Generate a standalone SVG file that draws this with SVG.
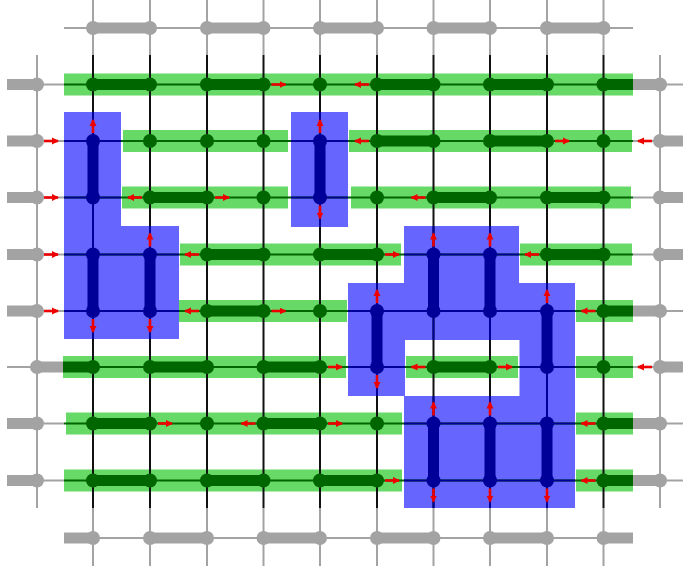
<svg xmlns="http://www.w3.org/2000/svg" width="683" height="574" viewBox="0 0 683 574">
<style>
.band{fill:#66d966}
.blue{fill:#6666ff}
.gthin{stroke:#a3a3a3;stroke-width:2;fill:none}
.gthick{stroke:#a3a3a3;stroke-width:11;stroke-linecap:round}
.gbutt{stroke:#a3a3a3;stroke-width:11;stroke-linecap:butt}
.gdot{fill:#a3a3a3}
.hl{stroke:#006600;stroke-width:2}
.vl{stroke:#111111;stroke-width:2}
.nl{stroke:#000099;stroke-width:2}
.dg{stroke:#006600;stroke-width:11;stroke-linecap:round}
.dgb{stroke:#006600;stroke-width:11;stroke-linecap:butt}
.dgd{fill:#006600}
.nv{stroke:#000099;stroke-width:11;stroke-linecap:round}
.nvd{fill:#000099}
.arr{stroke:#ee0000;stroke-width:2.6;marker-end:url(#ah)}
</style>
<defs>
<marker id="ah" markerUnits="userSpaceOnUse" markerWidth="8" markerHeight="8" refX="6" refY="4" orient="auto">
<path d="M0,0.5 L7,4 L0,7.5 Z" fill="#ee0000"/>
</marker>
<clipPath id="blueclip">
<path d="M64,112 H121 V226 H179 V339 H64 Z"/>
<rect x="291" y="112" width="57" height="115"/>
<path d="M404,226 H519 V283 H575 V508 H404 V396 H348 V283 H404 Z M405,340 V396 H519.5 V340 Z" clip-rule="evenodd"/>
</clipPath>
</defs>

<g id="bands">
<rect class="band" x="64" y="73.5" width="569" height="22"/>
<rect class="band" x="123" y="130" width="165" height="22"/>
<rect class="band" x="349" y="130" width="283" height="22"/>
<rect class="band" x="122" y="186.5" width="166" height="22"/>
<rect class="band" x="351" y="186.5" width="280" height="22"/>
<rect class="band" x="180" y="243.5" width="221" height="22"/>
<rect class="band" x="520" y="243.5" width="112" height="22"/>
<rect class="band" x="178" y="300" width="169" height="22"/>
<rect class="band" x="576" y="300" width="57" height="22"/>
<rect class="band" x="63" y="356" width="283" height="22"/>
<rect class="band" x="406" y="356" width="112" height="22"/>
<rect class="band" x="576" y="356" width="57" height="22"/>
<rect class="band" x="66" y="412.5" width="336" height="22"/>
<rect class="band" x="576" y="412.5" width="57" height="22"/>
<rect class="band" x="64" y="469.5" width="338" height="22"/>
<rect class="band" x="576" y="469.5" width="57" height="22"/>
</g>

<g id="blue-regions">
<path class="blue" d="M64,112 H121 V226 H179 V339 H64 Z"/>
<rect class="blue" x="291" y="112" width="57" height="115"/>
<path class="blue" fill-rule="evenodd" d="M404,226 H519 V283 H575 V508 H404 V396 H348 V283 H404 Z M405,340 V396 H519.5 V340 Z"/>
</g>

<g id="connectors">
<g id="frame-thin">
<line class="gthin" x1="64" y1="28" x2="633" y2="28"/>
<line class="gthin" x1="64" y1="538" x2="633" y2="538"/>
<line class="gthin" x1="37" y1="55" x2="37" y2="508"/>
<line class="gthin" x1="660" y1="55" x2="660" y2="508"/>
<line class="gthin" x1="7" y1="84.5" x2="64" y2="84.5"/>
<line class="gthin" x1="7" y1="141" x2="64" y2="141"/>
<line class="gthin" x1="7" y1="197.5" x2="64" y2="197.5"/>
<line class="gthin" x1="7" y1="254.5" x2="64" y2="254.5"/>
<line class="gthin" x1="7" y1="311" x2="64" y2="311"/>
<line class="gthin" x1="7" y1="367" x2="64" y2="367"/>
<line class="gthin" x1="7" y1="423.5" x2="64" y2="423.5"/>
<line class="gthin" x1="7" y1="480.5" x2="64" y2="480.5"/>
<line class="gthin" x1="633" y1="84.5" x2="683" y2="84.5"/>
<line class="gthin" x1="633" y1="141" x2="683" y2="141"/>
<line class="gthin" x1="633" y1="197.5" x2="683" y2="197.5"/>
<line class="gthin" x1="633" y1="254.5" x2="683" y2="254.5"/>
<line class="gthin" x1="633" y1="311" x2="683" y2="311"/>
<line class="gthin" x1="633" y1="367" x2="683" y2="367"/>
<line class="gthin" x1="633" y1="423.5" x2="683" y2="423.5"/>
<line class="gthin" x1="633" y1="480.5" x2="683" y2="480.5"/>
<path class="gthin" d="M93,0V55 M150,0V55 M207,0V55 M263.5,0V55 M320,0V55 M377,0V55 M433.5,0V55 M490,0V55 M547,0V55 M603.5,0V55"/>
<path class="gthin" d="M93,508V566 M150,508V566 M207,508V566 M263.5,508V566 M320,508V566 M377,508V566 M433.5,508V566 M490,508V566 M547,508V566 M603.5,508V566"/>
</g>
<g id="grid-rows">
<path class="hl" d="M64,84.5H633 M64,141H633 M64,197.5H633 M64,254.5H633 M64,311H633 M64,367H633 M64,423.5H633 M64,480.5H633"/>
</g>
<g id="grid-cols">
<path class="vl" d="M93,55V508 M150,55V508 M207,55V508 M263.5,55V508 M320,55V508 M377,55V508 M433.5,55V508 M490,55V508 M547,55V508 M603.5,55V508"/>
</g>
<g id="grid-blue" clip-path="url(#blueclip)">
<path class="nl" d="M64,141H633 M64,197.5H633 M64,254.5H633 M64,311H633 M64,367H633 M64,423.5H633 M64,480.5H633"/>
<path class="nl" d="M93,55V508 M150,55V508 M320,55V508 M377,55V508 M433.5,55V508 M490,55V508 M547,55V508"/>
</g>
</g>

<g id="frame-nodes">
<line class="gthick" x1="93" y1="28" x2="150" y2="28"/>
<line class="gthick" x1="207" y1="28" x2="263.5" y2="28"/>
<line class="gthick" x1="320" y1="28" x2="377" y2="28"/>
<line class="gthick" x1="433.5" y1="28" x2="490" y2="28"/>
<line class="gthick" x1="547" y1="28" x2="603.5" y2="28"/>
<line class="gbutt" x1="64" y1="538" x2="93" y2="538"/>
<line class="gthick" x1="150" y1="538" x2="207" y2="538"/>
<line class="gthick" x1="263.5" y1="538" x2="320" y2="538"/>
<line class="gthick" x1="377" y1="538" x2="433.5" y2="538"/>
<line class="gthick" x1="490" y1="538" x2="547" y2="538"/>
<line class="gbutt" x1="603.5" y1="538" x2="633" y2="538"/>
<line class="gbutt" x1="7" y1="84.5" x2="37" y2="84.5"/>
<line class="gbutt" x1="7" y1="141" x2="37" y2="141"/>
<line class="gbutt" x1="7" y1="197.5" x2="37" y2="197.5"/>
<line class="gbutt" x1="7" y1="254.5" x2="37" y2="254.5"/>
<line class="gbutt" x1="7" y1="311" x2="37" y2="311"/>
<line class="gbutt" x1="37" y1="367" x2="64" y2="367"/>
<line class="gbutt" x1="7" y1="423.5" x2="37" y2="423.5"/>
<line class="gbutt" x1="7" y1="480.5" x2="37" y2="480.5"/>
<line class="gbutt" x1="633" y1="84.5" x2="660" y2="84.5"/>
<line class="gbutt" x1="660" y1="141" x2="683" y2="141"/>
<line class="gbutt" x1="660" y1="197.5" x2="683" y2="197.5"/>
<line class="gbutt" x1="660" y1="254.5" x2="683" y2="254.5"/>
<line class="gbutt" x1="633" y1="311" x2="660" y2="311"/>
<line class="gbutt" x1="660" y1="367" x2="683" y2="367"/>
<line class="gbutt" x1="633" y1="423.5" x2="660" y2="423.5"/>
<line class="gbutt" x1="633" y1="480.5" x2="660" y2="480.5"/>
<g class="gdot">
<circle cx="93" cy="28" r="7"/><circle cx="150" cy="28" r="7"/><circle cx="207" cy="28" r="7"/><circle cx="263.5" cy="28" r="7"/><circle cx="320" cy="28" r="7"/><circle cx="377" cy="28" r="7"/><circle cx="433.5" cy="28" r="7"/><circle cx="490" cy="28" r="7"/><circle cx="547" cy="28" r="7"/><circle cx="603.5" cy="28" r="7"/>
<circle cx="93" cy="538" r="7"/><circle cx="150" cy="538" r="7"/><circle cx="207" cy="538" r="7"/><circle cx="263.5" cy="538" r="7"/><circle cx="320" cy="538" r="7"/><circle cx="377" cy="538" r="7"/><circle cx="433.5" cy="538" r="7"/><circle cx="490" cy="538" r="7"/><circle cx="547" cy="538" r="7"/><circle cx="603.5" cy="538" r="7"/>
<circle cx="37" cy="84.5" r="7"/><circle cx="37" cy="141" r="7"/><circle cx="37" cy="197.5" r="7"/><circle cx="37" cy="254.5" r="7"/><circle cx="37" cy="311" r="7"/><circle cx="37" cy="367" r="7"/><circle cx="37" cy="423.5" r="7"/><circle cx="37" cy="480.5" r="7"/>
<circle cx="660" cy="84.5" r="7"/><circle cx="660" cy="141" r="7"/><circle cx="660" cy="197.5" r="7"/><circle cx="660" cy="254.5" r="7"/><circle cx="660" cy="311" r="7"/><circle cx="660" cy="367" r="7"/><circle cx="660" cy="423.5" r="7"/><circle cx="660" cy="480.5" r="7"/>
</g>
</g>

<g id="green-nodes">
<g id="row1">
<line class="dg" x1="93" y1="84.5" x2="150" y2="84.5"/><line class="dg" x1="207" y1="84.5" x2="263.5" y2="84.5"/><line class="dg" x1="377" y1="84.5" x2="433.5" y2="84.5"/><line class="dg" x1="490" y1="84.5" x2="547" y2="84.5"/><line class="dgb" x1="603.5" y1="84.5" x2="633" y2="84.5"/>
<g class="dgd"><circle cx="93" cy="84.5" r="7"/><circle cx="150" cy="84.5" r="7"/><circle cx="207" cy="84.5" r="7"/><circle cx="263.5" cy="84.5" r="7"/><circle cx="320" cy="84.5" r="7"/><circle cx="377" cy="84.5" r="7"/><circle cx="433.5" cy="84.5" r="7"/><circle cx="490" cy="84.5" r="7"/><circle cx="547" cy="84.5" r="7"/><circle cx="603.5" cy="84.5" r="7"/></g>
</g>
<g id="row2">
<line class="dg" x1="377" y1="141" x2="433.5" y2="141"/><line class="dg" x1="490" y1="141" x2="547" y2="141"/>
<g class="dgd"><circle cx="150" cy="141" r="7"/><circle cx="207" cy="141" r="7"/><circle cx="263.5" cy="141" r="7"/><circle cx="377" cy="141" r="7"/><circle cx="433.5" cy="141" r="7"/><circle cx="490" cy="141" r="7"/><circle cx="547" cy="141" r="7"/><circle cx="603.5" cy="141" r="7"/></g>
</g>
<g id="row3">
<line class="dg" x1="150" y1="197.5" x2="207" y2="197.5"/><line class="dg" x1="433.5" y1="197.5" x2="490" y2="197.5"/><line class="dg" x1="547" y1="197.5" x2="603.5" y2="197.5"/>
<g class="dgd"><circle cx="150" cy="197.5" r="7"/><circle cx="207" cy="197.5" r="7"/><circle cx="263.5" cy="197.5" r="7"/><circle cx="377" cy="197.5" r="7"/><circle cx="433.5" cy="197.5" r="7"/><circle cx="490" cy="197.5" r="7"/><circle cx="547" cy="197.5" r="7"/><circle cx="603.5" cy="197.5" r="7"/></g>
</g>
<g id="row4">
<line class="dg" x1="207" y1="254.5" x2="263.5" y2="254.5"/><line class="dg" x1="320" y1="254.5" x2="377" y2="254.5"/><line class="dg" x1="547" y1="254.5" x2="603.5" y2="254.5"/>
<g class="dgd"><circle cx="207" cy="254.5" r="7"/><circle cx="263.5" cy="254.5" r="7"/><circle cx="320" cy="254.5" r="7"/><circle cx="377" cy="254.5" r="7"/><circle cx="547" cy="254.5" r="7"/><circle cx="603.5" cy="254.5" r="7"/></g>
</g>
<g id="row5">
<line class="dg" x1="207" y1="311" x2="263.5" y2="311"/><line class="dgb" x1="603.5" y1="311" x2="633" y2="311"/>
<g class="dgd"><circle cx="207" cy="311" r="7"/><circle cx="263.5" cy="311" r="7"/><circle cx="320" cy="311" r="7"/><circle cx="603.5" cy="311" r="7"/></g>
</g>
<g id="row6">
<line class="dgb" x1="63" y1="367" x2="93" y2="367"/><line class="dg" x1="150" y1="367" x2="207" y2="367"/><line class="dg" x1="263.5" y1="367" x2="320" y2="367"/><line class="dg" x1="433.5" y1="367" x2="490" y2="367"/>
<g class="dgd"><circle cx="93" cy="367" r="7"/><circle cx="150" cy="367" r="7"/><circle cx="207" cy="367" r="7"/><circle cx="263.5" cy="367" r="7"/><circle cx="320" cy="367" r="7"/><circle cx="433.5" cy="367" r="7"/><circle cx="490" cy="367" r="7"/><circle cx="603.5" cy="367" r="7"/></g>
</g>
<g id="row7">
<line class="dg" x1="93" y1="423.5" x2="150" y2="423.5"/><line class="dg" x1="263.5" y1="423.5" x2="320" y2="423.5"/><line class="dgb" x1="603.5" y1="423.5" x2="633" y2="423.5"/>
<g class="dgd"><circle cx="93" cy="423.5" r="7"/><circle cx="150" cy="423.5" r="7"/><circle cx="207" cy="423.5" r="7"/><circle cx="263.5" cy="423.5" r="7"/><circle cx="320" cy="423.5" r="7"/><circle cx="377" cy="423.5" r="7"/><circle cx="603.5" cy="423.5" r="7"/></g>
</g>
<g id="row8">
<line class="dg" x1="93" y1="480.5" x2="150" y2="480.5"/><line class="dg" x1="207" y1="480.5" x2="263.5" y2="480.5"/><line class="dg" x1="320" y1="480.5" x2="377" y2="480.5"/><line class="dgb" x1="603.5" y1="480.5" x2="633" y2="480.5"/>
<g class="dgd"><circle cx="93" cy="480.5" r="7"/><circle cx="150" cy="480.5" r="7"/><circle cx="207" cy="480.5" r="7"/><circle cx="263.5" cy="480.5" r="7"/><circle cx="320" cy="480.5" r="7"/><circle cx="377" cy="480.5" r="7"/><circle cx="603.5" cy="480.5" r="7"/></g>
</g>
</g>

<g id="blue-nodes">
<line class="nv" x1="93" y1="141" x2="93" y2="197.5"/>
<line class="nv" x1="320" y1="141" x2="320" y2="197.5"/>
<line class="nv" x1="93" y1="254.5" x2="93" y2="311"/>
<line class="nv" x1="150" y1="254.5" x2="150" y2="311"/>
<line class="nv" x1="433.5" y1="254.5" x2="433.5" y2="311"/>
<line class="nv" x1="490" y1="254.5" x2="490" y2="311"/>
<line class="nv" x1="377" y1="311" x2="377" y2="367"/>
<line class="nv" x1="547" y1="311" x2="547" y2="367"/>
<line class="nv" x1="433.5" y1="423.5" x2="433.5" y2="480.5"/>
<line class="nv" x1="490" y1="423.5" x2="490" y2="480.5"/>
<line class="nv" x1="547" y1="423.5" x2="547" y2="480.5"/>
<g class="nvd">
<circle cx="93" cy="141" r="7"/><circle cx="93" cy="197.5" r="7"/><circle cx="320" cy="141" r="7"/><circle cx="320" cy="197.5" r="7"/>
<circle cx="93" cy="254.5" r="7"/><circle cx="93" cy="311" r="7"/><circle cx="150" cy="254.5" r="7"/><circle cx="150" cy="311" r="7"/>
<circle cx="433.5" cy="254.5" r="7"/><circle cx="433.5" cy="311" r="7"/><circle cx="490" cy="254.5" r="7"/><circle cx="490" cy="311" r="7"/>
<circle cx="377" cy="311" r="7"/><circle cx="377" cy="367" r="7"/><circle cx="547" cy="311" r="7"/><circle cx="547" cy="367" r="7"/>
<circle cx="433.5" cy="423.5" r="7"/><circle cx="433.5" cy="480.5" r="7"/><circle cx="490" cy="423.5" r="7"/><circle cx="490" cy="480.5" r="7"/><circle cx="547" cy="423.5" r="7"/><circle cx="547" cy="480.5" r="7"/>
</g>
</g>

<g id="arrows">
<line class="arr" x1="44" y1="141" x2="58" y2="141"/>
<line class="arr" x1="44" y1="197.5" x2="58" y2="197.5"/>
<line class="arr" x1="44" y1="254.5" x2="58" y2="254.5"/>
<line class="arr" x1="44" y1="311" x2="58" y2="311"/>
<line class="arr" x1="271.5" y1="84.5" x2="285.5" y2="84.5"/>
<line class="arr" x1="555" y1="141" x2="569" y2="141"/>
<line class="arr" x1="215" y1="197.5" x2="229" y2="197.5"/>
<line class="arr" x1="385" y1="254.5" x2="399" y2="254.5"/>
<line class="arr" x1="271.5" y1="311" x2="285.5" y2="311"/>
<line class="arr" x1="328" y1="367" x2="342" y2="367"/>
<line class="arr" x1="498" y1="367" x2="512" y2="367"/>
<line class="arr" x1="158" y1="423.5" x2="172" y2="423.5"/>
<line class="arr" x1="328" y1="423.5" x2="342" y2="423.5"/>
<line class="arr" x1="385" y1="480.5" x2="399" y2="480.5"/>
<line class="arr" x1="369" y1="84.5" x2="355" y2="84.5"/>
<line class="arr" x1="369" y1="141" x2="355" y2="141"/>
<line class="arr" x1="652" y1="141" x2="638" y2="141"/>
<line class="arr" x1="142" y1="197.5" x2="128" y2="197.5"/>
<line class="arr" x1="425.5" y1="197.5" x2="411.5" y2="197.5"/>
<line class="arr" x1="199" y1="254.5" x2="185" y2="254.5"/>
<line class="arr" x1="539" y1="254.5" x2="525" y2="254.5"/>
<line class="arr" x1="199" y1="311" x2="185" y2="311"/>
<line class="arr" x1="595.5" y1="311" x2="581.5" y2="311"/>
<line class="arr" x1="425.5" y1="367" x2="411.5" y2="367"/>
<line class="arr" x1="652" y1="367" x2="638" y2="367"/>
<line class="arr" x1="255.5" y1="423.5" x2="241.5" y2="423.5"/>
<line class="arr" x1="595.5" y1="423.5" x2="581.5" y2="423.5"/>
<line class="arr" x1="595.5" y1="480.5" x2="581.5" y2="480.5"/>
<line class="arr" x1="93" y1="133" x2="93" y2="120"/>
<line class="arr" x1="320" y1="133" x2="320" y2="120"/>
<line class="arr" x1="150" y1="246.5" x2="150" y2="233.5"/>
<line class="arr" x1="433.5" y1="246.5" x2="433.5" y2="233.5"/>
<line class="arr" x1="490" y1="246.5" x2="490" y2="233.5"/>
<line class="arr" x1="377" y1="303" x2="377" y2="290"/>
<line class="arr" x1="547" y1="303" x2="547" y2="290"/>
<line class="arr" x1="433.5" y1="415.5" x2="433.5" y2="402.5"/>
<line class="arr" x1="490" y1="415.5" x2="490" y2="402.5"/>
<line class="arr" x1="320" y1="205.5" x2="320" y2="218.5"/>
<line class="arr" x1="93" y1="319" x2="93" y2="332"/>
<line class="arr" x1="150" y1="319" x2="150" y2="332"/>
<line class="arr" x1="377" y1="375" x2="377" y2="388"/>
<line class="arr" x1="433.5" y1="488.5" x2="433.5" y2="501.5"/>
<line class="arr" x1="490" y1="488.5" x2="490" y2="501.5"/>
<line class="arr" x1="547" y1="488.5" x2="547" y2="501.5"/>
</g>
</svg>
